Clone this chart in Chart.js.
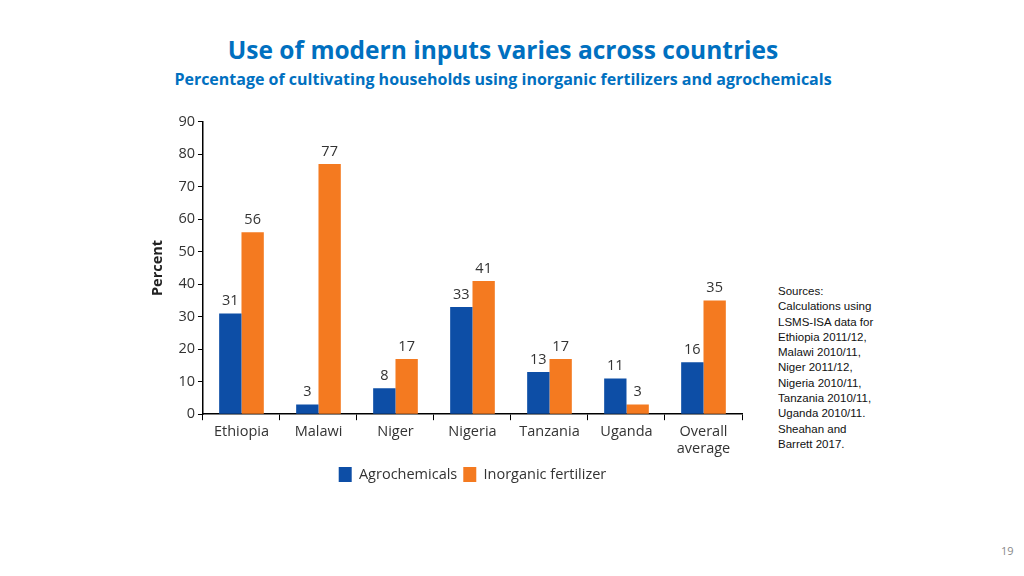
<!DOCTYPE html>
<html>
<head>
<meta charset="utf-8">
<script src="https://cdn.jsdelivr.net/npm/chart.js@4.4.1/dist/chart.umd.min.js"></script>
<style>
body{margin:0;width:1024px;height:576px;background:#fff;position:relative;overflow:hidden;font-family:"Open Sans",sans-serif}
#title{position:absolute;left:0;width:1006px;top:33px;text-align:center;color:#0070c0;font-weight:bold;font-size:24.5px}
#sub{position:absolute;left:0;width:1006px;top:68px;text-align:center;color:#0070c0;font-weight:bold;font-size:16px}
#wrap{position:absolute;left:140px;top:110px;width:612px;height:382px}
#src{position:absolute;left:778px;top:284px;font-size:11.5px;line-height:15.3px;color:#111;font-family:"Liberation Sans",sans-serif}
#pg{position:absolute;left:1001px;top:543px;font-size:11px;color:#888}
</style>
</head>
<body>
<div id="title">Use of modern inputs varies across countries</div>
<div id="sub">Percentage of cultivating households using inorganic fertilizers and agrochemicals</div>
<div id="wrap"><canvas id="c"></canvas></div>
<div id="src">Sources:<br>Calculations using<br>LSMS-ISA data for<br>Ethiopia 2011/12,<br>Malawi 2010/11,<br>Niger 2011/12,<br>Nigeria 2010/11,<br>Tanzania 2010/11,<br>Uganda 2010/11.<br>Sheahan and<br>Barrett 2017.</div>
<div id="pg">19</div>
<script>
/* DATA */
let countries=["Ethiopia","Malawi","Niger","Nigeria","Tanzania","Uganda",["Overall","average"]];
let agrochemicals=[31,3,8,33,13,11,16];
let fertilizer=[56,77,17,41,17,3,35];
let yTicks=[0,10,20,30,40,50,60,70,80,90];

/* value labels above bars */
let barLabels={
id:"barLabels",
afterDatasetsDraw(chart){
let ctx=chart.ctx;
ctx.save();
ctx.font="14.5px 'Open Sans'";
ctx.fillStyle="#333";
ctx.textAlign="center";
ctx.textBaseline="bottom";
chart.data.datasets.forEach((ds,i)=>{
chart.getDatasetMeta(i).data.forEach((bar,j)=>{
ctx.fillText(ds.data[j],bar.x,bar.y-5);
});
});
ctx.restore();
}
};

let tickFont={family:"Open Sans",size:14.5};

new Chart(document.getElementById("c"),{
type:"bar",
data:{
labels:countries,
datasets:[
{label:"Agrochemicals",data:agrochemicals,backgroundColor:"#0d4ea6"},
{label:"Inorganic fertilizer",data:fertilizer,backgroundColor:"#f47a20"}
]
},
options:{
responsive:true,
maintainAspectRatio:false,
animation:false,
layout:{padding:{top:6,right:10}},
datasets:{bar:{categoryPercentage:0.58,barPercentage:1}},
plugins:{
legend:{
position:"bottom",
fullSize:false,
labels:{boxWidth:13,boxHeight:15,color:"#333",font:tickFont,padding:6}
},
tooltip:{enabled:false}
},
scales:{
x:{
grid:{drawOnChartArea:false,tickLength:6,color:"#000"},
border:{color:"#000",width:1.5},
ticks:{color:"#333",font:tickFont,maxRotation:0,padding:3}
},
y:{
min:0,max:90,
afterBuildTicks(axis){axis.ticks=yTicks.map(v=>({value:v}));},
grid:{drawOnChartArea:false,tickLength:5,color:"#000"},
border:{color:"#000",width:1.5},
ticks:{color:"#333",font:tickFont,padding:3},
title:{display:true,text:"Percent",color:"#222",font:{family:"Open Sans",size:14.5,weight:"bold"},padding:9}
}
}
},
plugins:[barLabels]
});
</script>
</body>
</html>
